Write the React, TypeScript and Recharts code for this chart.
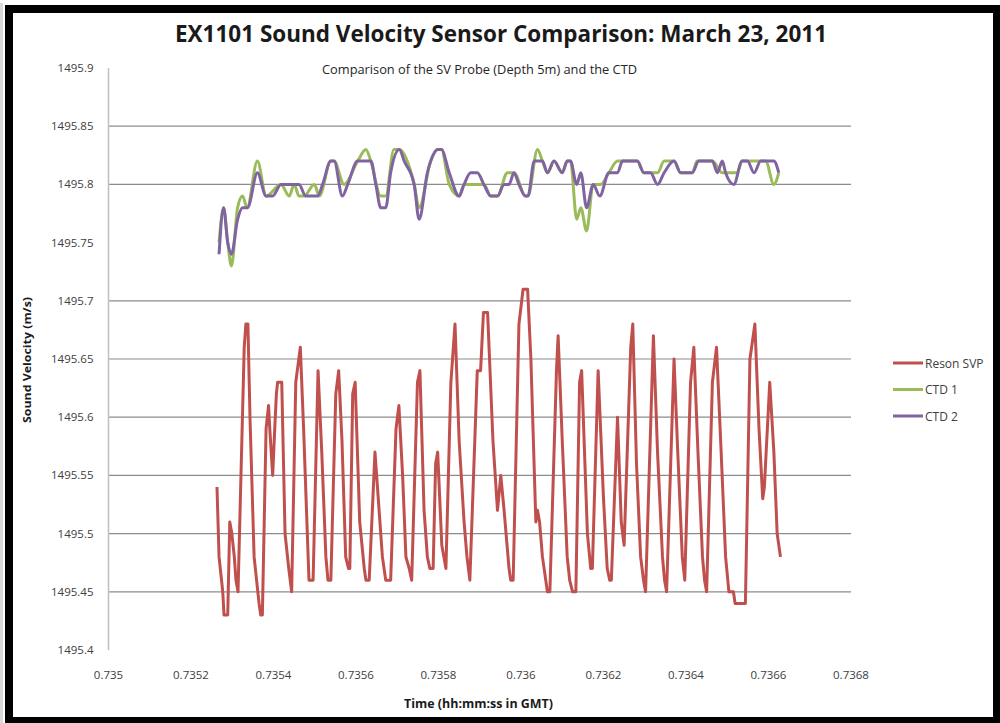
import { LineChart, Line, XAxis, YAxis, ReferenceLine } from 'recharts';

// time in fraction of day (GMT), velocity in m/s
const resonTime = [
  0.735263, 0.735268, 0.735274, 0.735277, 0.73528, 0.735289, 0.735294, 0.735299, 0.735305, 0.735309,
  0.735314, 0.735329, 0.735333, 0.735338, 0.735343, 0.735353, 0.735359, 0.735365, 0.735369, 0.735373,
  0.735382, 0.735388, 0.735391, 0.735398, 0.735403, 0.735407, 0.73541, 0.73542, 0.735428, 0.735437,
  0.735444, 0.735454, 0.735465, 0.735473, 0.735483, 0.735486, 0.735496, 0.735508, 0.735517, 0.735527,
  0.735532, 0.735539, 0.735551, 0.735558, 0.735566, 0.735575, 0.735582, 0.735585, 0.735592, 0.735598,
  0.735609, 0.73562, 0.735624, 0.735632, 0.735646, 0.735656, 0.735664, 0.735672, 0.735684, 0.735697,
  0.735704, 0.735713, 0.735721, 0.735729, 0.735735, 0.735749, 0.735755, 0.735765, 0.735773, 0.735779,
  0.735787, 0.735793, 0.735798, 0.735808, 0.735818, 0.73583, 0.73584, 0.73585, 0.735862, 0.735869,
  0.735876, 0.735894, 0.735902, 0.735909, 0.735919, 0.735932, 0.735943, 0.735951, 0.735959, 0.735971,
  0.735975, 0.735981, 0.735995, 0.736005, 0.736016, 0.736024, 0.736036, 0.73604, 0.736045, 0.736052,
  0.73606, 0.736064, 0.73607, 0.736086, 0.73609, 0.7361, 0.736112, 0.736118, 0.736125, 0.736133,
  0.736142, 0.736147, 0.736161, 0.736169, 0.736173, 0.736187, 0.7362, 0.736209, 0.736215, 0.736219,
  0.736234, 0.736243, 0.73625, 0.736266, 0.736271, 0.73628, 0.73629, 0.736297, 0.736302, 0.736321,
  0.736331, 0.736343, 0.736348, 0.736353, 0.736371, 0.73638, 0.736391, 0.736397, 0.736411, 0.736419,
  0.736429, 0.73644, 0.736445, 0.73645, 0.736464, 0.736474, 0.736484, 0.736496, 0.736504, 0.736515,
  0.736519, 0.736544, 0.736555, 0.736567, 0.736577, 0.736586, 0.73659, 0.736603, 0.736613, 0.736621,
  0.736629,
];
const resonVelocity = [
  1495.54, 1495.48, 1495.46, 1495.45, 1495.43, 1495.43, 1495.51, 1495.5, 1495.48, 1495.46,
  1495.45, 1495.66, 1495.68, 1495.68, 1495.6, 1495.48, 1495.46, 1495.44, 1495.43, 1495.43,
  1495.59, 1495.61, 1495.59, 1495.55, 1495.59, 1495.62, 1495.63, 1495.63, 1495.5, 1495.47,
  1495.45, 1495.63, 1495.66, 1495.59, 1495.49, 1495.46, 1495.46, 1495.64, 1495.57, 1495.48,
  1495.46, 1495.46, 1495.62, 1495.64, 1495.58, 1495.48, 1495.47, 1495.47, 1495.62, 1495.63,
  1495.51, 1495.47, 1495.46, 1495.46, 1495.57, 1495.52, 1495.48, 1495.46, 1495.46, 1495.59,
  1495.61, 1495.55, 1495.48, 1495.47, 1495.46, 1495.63, 1495.64, 1495.52, 1495.48, 1495.47,
  1495.47, 1495.56, 1495.57, 1495.49, 1495.47, 1495.63, 1495.68, 1495.58, 1495.51, 1495.48,
  1495.46, 1495.64, 1495.64, 1495.69, 1495.69, 1495.58, 1495.52, 1495.55, 1495.52, 1495.47,
  1495.46, 1495.46, 1495.68, 1495.71, 1495.71, 1495.65, 1495.51, 1495.52, 1495.51, 1495.48,
  1495.46, 1495.45, 1495.45, 1495.64, 1495.67, 1495.58, 1495.48, 1495.46, 1495.45, 1495.45,
  1495.63, 1495.64, 1495.5, 1495.47, 1495.47, 1495.64, 1495.53, 1495.47, 1495.46, 1495.46,
  1495.6, 1495.51, 1495.49, 1495.66, 1495.68, 1495.56, 1495.48, 1495.46, 1495.45, 1495.67,
  1495.57, 1495.48, 1495.46, 1495.45, 1495.65, 1495.57, 1495.48, 1495.46, 1495.63, 1495.66,
  1495.57, 1495.48, 1495.46, 1495.45, 1495.63, 1495.66, 1495.58, 1495.48, 1495.45, 1495.45,
  1495.44, 1495.44, 1495.65, 1495.68, 1495.59, 1495.53, 1495.54, 1495.63, 1495.57, 1495.5,
  1495.48,
];

const ctd1Time = [
  0.735268, 0.735279, 0.735289, 0.735298, 0.735313, 0.735325, 0.735336, 0.735361, 0.735382, 0.735418,
  0.735438, 0.73545, 0.735462, 0.735474, 0.735499, 0.735511, 0.735539, 0.735547, 0.735571, 0.735604,
  0.735624, 0.735636, 0.73566, 0.735672, 0.735692, 0.735705, 0.735741, 0.735753, 0.735781, 0.735798,
  0.735807, 0.735826, 0.73585, 0.735862, 0.735894, 0.73591, 0.735927, 0.735943, 0.735967, 0.735983,
  0.736011, 0.736017, 0.73604, 0.736052, 0.736064, 0.73608, 0.7361, 0.736112, 0.73612, 0.736135,
  0.736145, 0.736159, 0.736175, 0.736193, 0.736213, 0.736234, 0.736282, 0.736298, 0.736331, 0.736347,
  0.736371, 0.736387, 0.736415, 0.736427, 0.736464, 0.736488, 0.736524, 0.736536, 0.736593, 0.736613,
  0.736625,
];
const ctd1Velocity = [
  1495.75, 1495.78, 1495.75, 1495.73, 1495.78, 1495.79, 1495.78, 1495.82, 1495.79, 1495.8,
  1495.79, 1495.8, 1495.79, 1495.79, 1495.8, 1495.79, 1495.82, 1495.82, 1495.8, 1495.82,
  1495.83, 1495.82, 1495.79, 1495.79, 1495.83, 1495.83, 1495.8, 1495.78, 1495.82, 1495.83,
  1495.83, 1495.8, 1495.79, 1495.8, 1495.8, 1495.8, 1495.79, 1495.79, 1495.81, 1495.81,
  1495.79, 1495.79, 1495.83, 1495.82, 1495.81, 1495.82, 1495.81, 1495.82, 1495.82, 1495.77,
  1495.78, 1495.76, 1495.8, 1495.8, 1495.81, 1495.82, 1495.82, 1495.81, 1495.81, 1495.82,
  1495.82, 1495.81, 1495.81, 1495.82, 1495.82, 1495.81, 1495.81, 1495.82, 1495.82, 1495.8,
  1495.81,
];

const ctd2Time = [
  0.735268, 0.735279, 0.735289, 0.735298, 0.735313, 0.735325, 0.735337, 0.735361, 0.735382, 0.735398,
  0.735418, 0.735462, 0.735478, 0.735507, 0.735519, 0.735539, 0.735547, 0.735567, 0.73558, 0.735604,
  0.735636, 0.735648, 0.73566, 0.735672, 0.735684, 0.735705, 0.735717, 0.735741, 0.735753, 0.735773,
  0.735781, 0.735798, 0.735807, 0.735826, 0.73585, 0.735862, 0.735878, 0.735894, 0.73591, 0.735927,
  0.735943, 0.735959, 0.735971, 0.735983, 0.735995, 0.736011, 0.736017, 0.736032, 0.736052, 0.736064,
  0.73608, 0.7361, 0.736112, 0.73612, 0.736135, 0.736145, 0.736159, 0.736175, 0.736191, 0.736213,
  0.736234, 0.736246, 0.736282, 0.736298, 0.736314, 0.736331, 0.736347, 0.736371, 0.736387, 0.736415,
  0.736431, 0.736464, 0.736476, 0.736488, 0.736496, 0.736516, 0.736536, 0.736549, 0.736565, 0.736581,
  0.736613, 0.736625,
];
const ctd2Velocity = [
  1495.74, 1495.78, 1495.75, 1495.74, 1495.77, 1495.78, 1495.78, 1495.81, 1495.79, 1495.79,
  1495.8, 1495.8, 1495.79, 1495.79, 1495.8, 1495.82, 1495.82, 1495.79, 1495.8, 1495.82,
  1495.82, 1495.8, 1495.78, 1495.78, 1495.81, 1495.83, 1495.82, 1495.8, 1495.77, 1495.81,
  1495.82, 1495.83, 1495.83, 1495.81, 1495.79, 1495.8, 1495.81, 1495.81, 1495.8, 1495.79,
  1495.79, 1495.8, 1495.8, 1495.81, 1495.8, 1495.79, 1495.79, 1495.82, 1495.82, 1495.81,
  1495.82, 1495.81, 1495.82, 1495.82, 1495.8, 1495.81, 1495.78, 1495.8, 1495.79, 1495.81,
  1495.81, 1495.82, 1495.82, 1495.81, 1495.81, 1495.8, 1495.81, 1495.82, 1495.81, 1495.81,
  1495.82, 1495.82, 1495.81, 1495.82, 1495.81, 1495.8, 1495.82, 1495.82, 1495.81, 1495.82,
  1495.82, 1495.81,
];

const xTicks = [0.735, 0.7352, 0.7354, 0.7356, 0.7358, 0.736, 0.7362, 0.7364, 0.7366, 0.7368];
const yTicks = [1495.4, 1495.45, 1495.5, 1495.55, 1495.6, 1495.65, 1495.7, 1495.75, 1495.8, 1495.85, 1495.9];
const gridValues = [1495.45, 1495.5, 1495.55, 1495.6, 1495.65, 1495.7, 1495.8, 1495.85];

const toRows = (time: number[], vel: number[]) => time.map((t, i) => ({ t, v: vel[i] }));

const series = [
  { name: 'Reson SVP', data: toRows(resonTime, resonVelocity), color: '#C0504D', curve: 'linear' },
  { name: 'CTD 1', data: toRows(ctd1Time, ctd1Velocity), color: '#9BBB59', curve: 'monotone' },
  { name: 'CTD 2', data: toRows(ctd2Time, ctd2Velocity), color: '#8064A2', curve: 'monotone' },
];

const font = '"Open Sans", "Liberation Sans", sans-serif';
const tickStyle = { fontSize: 11.5, fill: '#404040', fontFamily: font };

export default function App() {
  return (
    <div style={{ position: 'absolute', left: 0, top: 0, width: 1000, height: 723, background: '#fff', overflow: 'hidden' }}>
      <div style={{ position: 'absolute', left: 0, top: 3, width: 3, height: 720, background: '#d9d9d9' }} />
      <div
        style={{
          position: 'absolute', left: 5, top: 5, width: 995, height: 718, boxSizing: 'border-box',
          borderStyle: 'solid', borderColor: '#000', borderWidth: '8px 7px 6px 8px',
        }}
      />
      <div style={{ position: 'absolute', left: 0, top: 0 }}>
        <LineChart width={1000} height={723} margin={{ top: 68, right: 149, bottom: 0, left: 0 }}>
          <XAxis
            dataKey="t" type="number" domain={[0.735, 0.7368]} ticks={xTicks} allowDataOverflow
            height={73} axisLine={false} tickLine={false} tickSize={0} tickMargin={21}
            tick={tickStyle} tickFormatter={(v: number) => String(Number(v.toFixed(4)))}
          />
          <YAxis
            type="number" domain={[1495.4, 1495.9]} ticks={yTicks} allowDataOverflow
            width={108.5} axisLine={{ stroke: '#bfbfbf', strokeWidth: 1.5 }} tickLine={false}
            tickSize={0} tickMargin={15} tick={tickStyle}
            tickFormatter={(v: number) => String(Number(v.toFixed(2)))}
          />
          {gridValues.map((g) => (
            <ReferenceLine key={g} y={g} stroke="#8c8c8c" strokeWidth={1.2} />
          ))}
          {series.map((s) => (
            <Line
              key={s.name} data={s.data} dataKey="v" name={s.name} type={s.curve as 'linear' | 'monotone'}
              stroke={s.color} strokeWidth={3} strokeLinejoin="round" dot={false} isAnimationActive={false}
            />
          ))}
        </LineChart>
      </div>
      <svg width={1000} height={723} style={{ position: 'absolute', left: 0, top: 0, pointerEvents: 'none' }}>
        <text x={501} y={42} textAnchor="middle" fontFamily={font} fontWeight={700} fontSize={23}
          fill="#1a1a1a" textLength={652} lengthAdjust="spacingAndGlyphs">
          EX1101 Sound Velocity Sensor Comparison: March 23, 2011
        </text>
        <text x={479.5} y={74} textAnchor="middle" fontFamily={font} fontSize={12}
          fill="#262626" textLength={315} lengthAdjust="spacingAndGlyphs">
          Comparison of the SV Probe (Depth 5m) and the CTD
        </text>
        <text x={478.5} y={708} textAnchor="middle" fontFamily={font} fontWeight={700} fontSize={11.5}
          fill="#1a1a1a" textLength={149} lengthAdjust="spacingAndGlyphs">
          Time (hh:mm:ss in GMT)
        </text>
        <text x={31} y={360} textAnchor="middle" fontFamily={font} fontWeight={700} fontSize={11}
          fill="#1a1a1a" transform="rotate(-90 31 360)" textLength={126} lengthAdjust="spacingAndGlyphs">
          Sound Velocity (m/s)
        </text>
        {series.map((s, i) => (
          <g key={s.name}>
            <line x1={893} x2={923} y1={363 + i * 26.5} y2={363 + i * 26.5} stroke={s.color} strokeWidth={3} />
            <text x={925} y={367.5 + i * 26.5} fontFamily={font} fontSize={12} fill="#404040">
              {s.name}
            </text>
          </g>
        ))}
      </svg>
    </div>
  );
}
